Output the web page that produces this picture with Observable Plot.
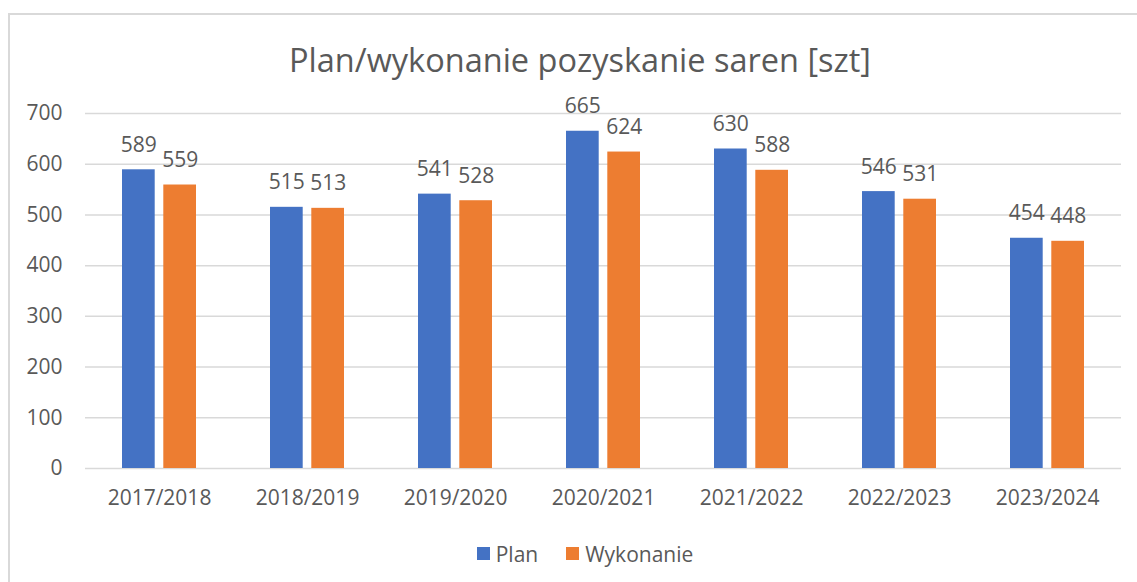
<!DOCTYPE html>
<html>
<head>
<meta charset="utf-8">
<script src="https://cdn.jsdelivr.net/npm/d3@7"></script>
<script src="https://cdn.jsdelivr.net/npm/@observablehq/plot@0.6"></script>
<style>
  html, body { margin: 0; padding: 0; background: #fff; }
  #wrap { position: relative; width: 1137px; height: 582px; overflow: hidden; font-family: "Open Sans", sans-serif; color: #595959; }
  #frame { position: absolute; left: 8px; top: 13px; width: 1200px; height: 700px; border: 2px solid #d9d9d9; box-sizing: border-box; }
  #title { position: absolute; left: 0; width: 1160px; top: 37px; text-align: center; font-size: 32.5px; line-height: 46px; color: #595959; }
  #chart { position: absolute; left: 0; top: 80px; }
  #legend { position: absolute; left: 0; width: 1170px; top: 537px; text-align: center; font-size: 21px; line-height: 30px; }
  .item { display: inline-flex; align-items: center; margin: 0 14px; }
  .sw { display: inline-block; width: 13px; height: 13px; margin-right: 6px; }
</style>
</head>
<body>
<div id="wrap">
  <div id="frame"></div>
  <div id="title">Plan/wykonanie pozyskanie saren [szt]</div>
  <div id="chart"></div>
  <div id="legend"></div>
</div>
<script>
const seasons = ["2017/2018", "2018/2019", "2019/2020", "2020/2021", "2021/2022", "2022/2023", "2023/2024"];
const plan = [589, 515, 541, 665, 630, 546, 454];
const wykonanie = [559, 513, 528, 624, 588, 531, 448];
const seriesNames = ["Plan", "Wykonanie"];
const seriesColors = ["#4472C4", "#ED7D31"];
const yTicks = [0, 100, 200, 300, 400, 500, 600, 700];

const seriesValues = [plan, wykonanie];
const tables = seriesValues.map((vals, i) =>
  seasons.map((s, j) => ({season: s, series: seriesNames[i], value: vals[j]}))
);

const bandInset = 41.3;
const labelShift = 20.7;

const marks = [
  Plot.ruleY(yTicks, {stroke: "#d9d9d9", strokeWidth: 1.5})
];
tables.forEach((rows, i) => {
  marks.push(Plot.barY(rows, {
    x: "season", y: "value", fill: seriesColors[i],
    insetLeft: i === 0 ? 0 : bandInset,
    insetRight: i === 0 ? bandInset : 0
  }));
  marks.push(Plot.text(rows, {
    x: "season", y: "value", text: d => String(d.value),
    lineAnchor: "bottom", dy: -18, dx: i === 0 ? -labelShift : labelShift,
    fontSize: 21, fill: "#595959"
  }));
});
marks.push(Plot.axisY({ticks: yTicks, tickSize: 0, tickPadding: 23, fontSize: 21, label: null}));
marks.push(Plot.axisX({tickSize: 0, tickPadding: 22, fontSize: 21, label: null}));

const chart = Plot.plot({
  width: 1137,
  height: 440,
  marginTop: 33,
  marginBottom: 52,
  marginLeft: 85,
  marginRight: 16,
  style: {fontFamily: "Open Sans, sans-serif", fontSize: "21px", color: "#595959", background: "transparent"},
  x: {type: "band", domain: seasons, paddingInner: 0.5, paddingOuter: 0.25, label: null},
  y: {domain: [0, 700], label: null},
  marks
});
document.getElementById("chart").appendChild(chart);

const legend = document.getElementById("legend");
seriesNames.forEach((name, i) => {
  const item = document.createElement("span");
  item.className = "item";
  const sw = document.createElement("span");
  sw.className = "sw";
  sw.style.background = seriesColors[i];
  item.appendChild(sw);
  item.appendChild(document.createTextNode(name));
  legend.appendChild(item);
});
</script>
</body>
</html>
